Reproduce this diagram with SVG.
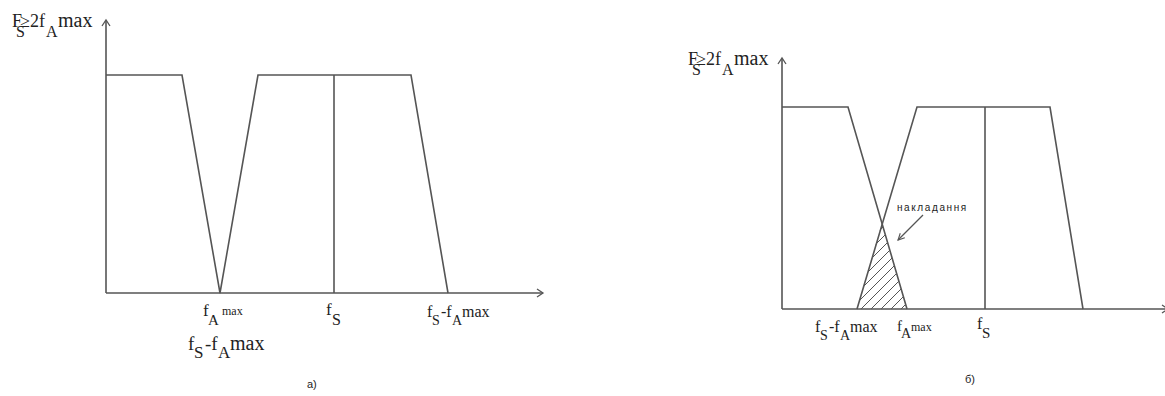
<svg xmlns="http://www.w3.org/2000/svg" width="1165" height="396" viewBox="0 0 1165 396">
<style>
.ln{fill:none;stroke:#555;stroke-width:1.6;stroke-linejoin:miter}
.ax{fill:none;stroke:#555;stroke-width:1.6}
.ah{fill:none;stroke:#555;stroke-width:1.3}
.t{font-family:"Liberation Serif","Times New Roman",serif;fill:#222}
.s{font-family:"Liberation Sans",Arial,sans-serif;fill:#222}
</style>
<defs>
<pattern id="hatch" patternUnits="userSpaceOnUse" width="10" height="10">
<path d="M-1,1 l2,-2 M0,10 l10,-10 M9,11 l2,-2" stroke="#555" stroke-width="1"/>
</pattern>
<marker id="open" viewBox="0 0 10 10" refX="9" refY="5" markerWidth="8" markerHeight="8" orient="auto" markerUnits="userSpaceOnUse">
<path d="M1,1 L9,5 L1,9" fill="none" stroke="#555" stroke-width="1.4"/>
</marker>
</defs>

<g id="diagram-a">
<g id="axes-a">
<line class="ax" x1="106" y1="293" x2="106" y2="21"/>
<path class="ah" d="M102,26 L106,20 L110,26"/>
<line class="ax" x1="106" y1="293" x2="543" y2="293"/>
<path class="ah" d="M537,289 L543,293 L537,297"/>
</g>
<g id="spectrum-a">
<polyline class="ln" points="106,75 182,75 220,293 258,75 411,75 448,293"/>
<line class="ln" x1="334" y1="75" x2="334" y2="293"/>
</g>
<g id="labels-a">
<text class="t" font-size="18" x="12" y="27">F<tspan x="16" y="37" font-size="16">S</tspan><tspan x="20" y="27">≥2f</tspan><tspan x="46" y="37" font-size="16">A</tspan><tspan x="58" y="27" font-size="20">max</tspan></text>

<text class="t" font-size="17" x="203" y="316">f<tspan x="208" y="325" font-size="15">A</tspan><tspan x="222" y="315" font-size="12">max</tspan></text>

<text class="t" font-size="17" x="326" y="315">f<tspan x="332" y="325" font-size="16">S</tspan></text>

<text class="t" font-size="16" x="427" y="317">f<tspan x="432" y="325" font-size="14">S</tspan><tspan x="441" y="317">-f</tspan><tspan x="452" y="325" font-size="14">A</tspan><tspan x="462" y="317">max</tspan></text>

<text class="t" font-size="19" x="188" y="350">f<tspan x="194" y="358" font-size="17">S</tspan><tspan x="205" y="350">-f</tspan><tspan x="218" y="358" font-size="17">A</tspan><tspan x="230" y="350" font-size="20">max</tspan></text>

<text class="s" font-size="11" x="307" y="388">а)</text>
</g>
</g>

<g id="diagram-b">
<g id="axes-b">
<line class="ax" x1="782" y1="309" x2="782" y2="59"/>
<path class="ah" d="M778,64 L782,58 L786,64"/>
<line class="ax" x1="782" y1="309" x2="1168" y2="309"/>
<path class="ah" d="M1162,305 L1168,309 L1162,313"/>
</g>
<g id="overlap-hatch">
<polygon points="857,309 882,223 907,309" fill="url(#hatch)" stroke="none"/>
</g>
<g id="spectrum-b">
<polyline class="ln" points="782,107 848,107 907,309"/>
<polyline class="ln" points="857,309 917,107 1050,107 1083,309"/>
<line class="ln" x1="985" y1="107" x2="985" y2="309"/>
</g>
<g id="labels-b">
<text class="t" font-size="18" x="688" y="65">F<tspan x="692" y="75" font-size="16">S</tspan><tspan x="696" y="65">≥2f</tspan><tspan x="722" y="75" font-size="16">A</tspan><tspan x="734" y="65" font-size="20">max</tspan></text>

<text class="t" font-size="16" x="815" y="332">f<tspan x="820" y="340" font-size="14">S</tspan><tspan x="829" y="332">-f</tspan><tspan x="840" y="340" font-size="14">A</tspan><tspan x="850" y="332">max</tspan></text>

<text class="t" font-size="15" x="897" y="331">f<tspan x="901" y="338" font-size="14">A</tspan><tspan x="911" y="331" font-size="12">max</tspan></text>

<text class="t" font-size="16" x="977" y="329">f<tspan x="982" y="338" font-size="15">S</tspan></text>

<text class="s" font-size="10" x="897" y="211" letter-spacing="1.6">накладання</text>
<line x1="923" y1="215" x2="898" y2="240" stroke="#555" stroke-width="1.2" marker-end="url(#open)"/>

<text class="s" font-size="11" x="965" y="383">б)</text>
</g>
</g>
</svg>
